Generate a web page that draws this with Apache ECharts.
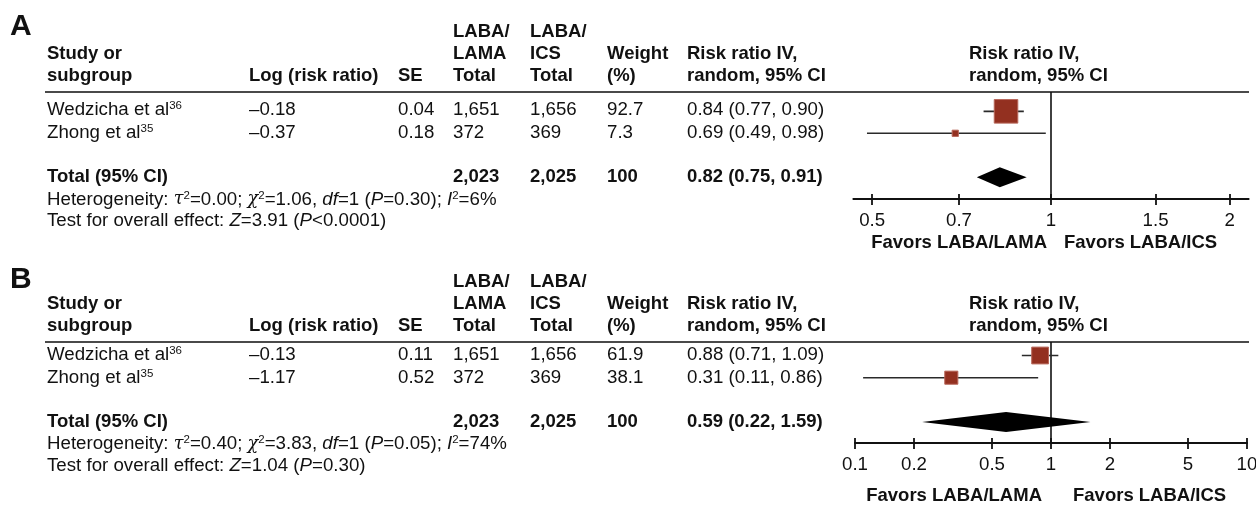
<!DOCTYPE html>
<html><head><meta charset="utf-8">
<script src="https://cdn.jsdelivr.net/npm/echarts@6/dist/echarts.min.js"></script>
<style>html,body{margin:0;padding:0;background:#fff}#c{width:1256px;height:506px}</style>
</head><body><div id="c"></div>
<script>
// ---------- Panel A data ----------
const studiesA   = ['Wedzicha et al', 'Zhong et al'];
const refsA      = ['36', '35'];
const logRRA     = ['–0.18', '–0.37'];
const seA        = ['0.04', '0.18'];
const lamaTotA   = ['1,651', '372'];
const icsTotA    = ['1,656', '369'];
const weightA    = [92.7, 7.3];
const rrA        = [0.84, 0.69];
const loA        = [0.77, 0.49];
const hiA        = [0.90, 0.98];
const pooledA    = [0.82, 0.75, 0.91];      // estimate, lower, upper
const sumsA      = ['2,023', '2,025', '100'];
const hetA       = ['0.00', '1.06', '1', '=0.30', '6%'];  // tau2, chi2, df, P, I2
const testA      = ['3.91', '<0.0001'];       // Z, P
const ticksA     = [0.5, 0.7, 1, 1.5, 2];

// ---------- Panel B data ----------
const studiesB   = ['Wedzicha et al', 'Zhong et al'];
const refsB      = ['36', '35'];
const logRRB     = ['–0.13', '–1.17'];
const seB        = ['0.11', '0.52'];
const lamaTotB   = ['1,651', '372'];
const icsTotB    = ['1,656', '369'];
const weightB    = [61.9, 38.1];
const rrB        = [0.88, 0.31];
const loB        = [0.71, 0.11];
const hiB        = [1.09, 0.86];
const pooledB    = [0.59, 0.22, 1.59];
const sumsB      = ['2,023', '2,025', '100'];
const hetB       = ['0.40', '3.83', '1', '=0.05', '74%'];
const testB      = ['1.04', '=0.30'];
const ticksB     = [0.1, 0.2, 0.5, 1, 2, 5, 10];

const nullRR = 1;
const favors = ['Favors LABA/LAMA', 'Favors LABA/ICS'];

// ---------- layout ----------
const FF = '"Liberation Sans", Arial, Helvetica, sans-serif';
const FS = 18.7;   // regular text
const FB = 18.5;   // bold text
const COL = { study: 47, logrr: 249, se: 398, lama: 453, ics: 530, wt: 607, ci: 687, plot: 969 };
const L = Math.log10;

const panels = [
  { letter: 'A', studies: studiesA, refs: refsA, logrr: logRRA, se: seA, lama: lamaTotA, ics: icsTotA,
    wt: weightA, rr: rrA, lo: loA, hi: hiA, pooled: pooledA, sums: sumsA, het: hetA, test: testA, ticks: ticksA,
    ext: 0.3325, pxPerDec: 594, gridTop: 92, gridH: 107, yMin: 0.12, yMax: 4.992, sq: 2.5,
    gy: { letter: 27, hdr: [32, 54, 76], rule: 92, rows: [109.5, 132.5], total: 177, het: 199.5, test: 221, fav: 243 },
    favX: [1047, 1064] },
  { letter: 'B', studies: studiesB, refs: refsB, logrr: logRRB, se: seB, lama: lamaTotB, ics: icsTotB,
    wt: weightB, rr: rrB, lo: loB, hi: hiB, pooled: pooledB, sums: sumsB, het: hetB, test: testB, ticks: ticksB,
    ext: 1, pxPerDec: 196, gridTop: 342, gridH: 101, yMin: 0.391, yMax: 4.945, sq: 2.2,
    gy: { letter: 280, hdr: [282, 304, 326], rule: 342, rows: [354.5, 377.5], total: 422, het: 444, test: 466, fav: 496 },
    favX: [1042, 1073] }
];

const rich = {
  g: { fontFamily: '"DejaVu Serif", "Liberation Serif", serif', fontStyle: 'italic', fontSize: FS - 1, lineHeight: 20, fill: '#111' },
  i: { fontFamily: FF, fontStyle: 'italic', fontSize: FS, lineHeight: 20, fill: '#111' },
  s: { fontFamily: FF, fontSize: 11.5, lineHeight: 12, verticalAlign: 'top', fill: '#111' },
  n: { fontFamily: FF, fontSize: FS, lineHeight: 20, fill: '#111' }
};

function txt(x, y, text, bold, extra) {
  return {
    type: 'text', x: x, y: y, silent: true,
    style: Object.assign({ text: text, fontFamily: FF, fontSize: bold ? FB : FS, fontWeight: bold ? 'bold' : 'normal',
      fill: '#111', align: 'left', verticalAlign: 'middle', lineHeight: 20, rich: rich }, extra || {})
  };
}

const graphics = [];
const grids = [], xAxes = [], yAxes = [], series = [];

panels.forEach((p, pi) => {
  const g = p.gy;
  // panel letter
  graphics.push(txt(10, g.letter, p.letter, true, { fontSize: 30, lineHeight: 32, fontWeight: 'bold' }));
  // headers
  graphics.push(txt(COL.lama, g.hdr[0], 'LABA/', true));
  graphics.push(txt(COL.ics, g.hdr[0], 'LABA/', true));
  graphics.push(txt(COL.study, g.hdr[1], 'Study or', true));
  graphics.push(txt(COL.lama, g.hdr[1], 'LAMA', true));
  graphics.push(txt(COL.ics, g.hdr[1], 'ICS', true));
  graphics.push(txt(COL.wt, g.hdr[1], 'Weight', true));
  graphics.push(txt(COL.ci, g.hdr[1], 'Risk ratio IV,', true));
  graphics.push(txt(COL.plot, g.hdr[1], 'Risk ratio IV,', true));
  graphics.push(txt(COL.study, g.hdr[2], 'subgroup', true));
  graphics.push(txt(COL.logrr, g.hdr[2], 'Log (risk ratio)', true));
  graphics.push(txt(COL.se, g.hdr[2], 'SE', true));
  graphics.push(txt(COL.lama, g.hdr[2], 'Total', true));
  graphics.push(txt(COL.ics, g.hdr[2], 'Total', true));
  graphics.push(txt(COL.wt, g.hdr[2], '(%)', true));
  graphics.push(txt(COL.ci, g.hdr[2], 'random, 95% CI', true));
  graphics.push(txt(COL.plot, g.hdr[2], 'random, 95% CI', true));
  // rule
  graphics.push({ type: 'line', silent: true, shape: { x1: 45, y1: g.rule, x2: 1249, y2: g.rule },
    style: { stroke: '#4a4a4a', lineWidth: 2 } });
  // study rows
  p.studies.forEach((s, k) => {
    const y = g.rows[k];
    graphics.push(txt(COL.study, y, '{n|' + s + '}{s|' + p.refs[k] + '}', false));
    graphics.push(txt(COL.logrr, y, p.logrr[k], false));
    graphics.push(txt(COL.se, y, p.se[k], false));
    graphics.push(txt(COL.lama, y, p.lama[k], false));
    graphics.push(txt(COL.ics, y, p.ics[k], false));
    graphics.push(txt(COL.wt, y, p.wt[k].toFixed(1), false));
    graphics.push(txt(COL.ci, y, p.rr[k].toFixed(2) + ' (' + p.lo[k].toFixed(2) + ', ' + p.hi[k].toFixed(2) + ')', false));
  });
  // total row
  graphics.push(txt(COL.study, g.total, 'Total (95% CI)', true));
  graphics.push(txt(COL.lama, g.total, p.sums[0], true));
  graphics.push(txt(COL.ics, g.total, p.sums[1], true));
  graphics.push(txt(COL.wt, g.total, p.sums[2], true));
  graphics.push(txt(COL.ci, g.total, p.pooled[0].toFixed(2) + ' (' + p.pooled[1].toFixed(2) + ', ' + p.pooled[2].toFixed(2) + ')', true));
  // heterogeneity & test
  const h = p.het;
  graphics.push(txt(COL.study, g.het,
    '{n|Heterogeneity: }{g|τ}{s|2}{n|=' + h[0] + '; }{g|χ}{s|2}{n|=' + h[1] + ', }{i|df}{n|=' + h[2] +
    ' (}{i|P}{n|' + h[3] + '); }{i|I}{s|2}{n|=' + h[4] + '}', false));
  graphics.push(txt(COL.study, g.test,
    '{n|Test for overall effect: }{i|Z}{n|=' + p.test[0] + ' (}{i|P}{n|' + p.test[1] + ')}', false));
  // favours
  graphics.push(txt(p.favX[0], g.fav, favors[0], true, { align: 'right' }));
  graphics.push(txt(p.favX[1], g.fav, favors[1], true, { align: 'left' }));

  // ---- plot area (log scale via log10 on a value axis) ----
  const left = 1051 - p.ext * p.pxPerDec;
  const width = 2 * p.ext * p.pxPerDec;
  grids.push({ left: left, top: p.gridTop, width: width, height: p.gridH, containLabel: false, outerBoundsMode: 'none' });
  const tickVals = p.ticks.map(L);
  const fmt = v => { const t = p.ticks.find(t => Math.abs(L(t) - v) < 1e-6); return t === undefined ? '' : String(t); };
  const base = {
    type: 'value', gridIndex: pi, min: -p.ext, max: p.ext, position: 'bottom', offset: 0,
    axisLine: { show: true, onZero: false, lineStyle: { color: '#111', width: 1.8 } },
    splitLine: { show: false }
  };
  xAxes.push(Object.assign({}, base, {
    axisTick: { show: true, customValues: tickVals, length: 6, inside: false, lineStyle: { color: '#111', width: 1.8 } },
    axisLabel: { show: true, customValues: tickVals, formatter: fmt, margin: 12, fontSize: FS, fontFamily: FF, color: '#111',
      hideOverlap: false, showMinLabel: true, showMaxLabel: true }
  }));
  xAxes.push(Object.assign({}, base, {
    axisTick: { show: true, customValues: tickVals, length: 5, inside: true, lineStyle: { color: '#111', width: 1.8 } },
    axisLabel: { show: false }
  }));
  yAxes.push({ type: 'value', gridIndex: pi, inverse: true, min: p.yMin, max: p.yMax, show: false });

  const xIdx = pi * 2;
  const studyData = p.rr.map((r, k) => [L(r), L(p.lo[k]), L(p.hi[k]), k + 1, p.wt[k]]);
  const sqK = p.sq;
  series.push({
    type: 'custom', xAxisIndex: xIdx, yAxisIndex: pi, silent: true, clip: false,
    data: studyData,
    renderItem: (params, api) => {
      const row = api.value(3);
      const pe = api.coord([api.value(0), row]);
      const pl = api.coord([api.value(1), row]);
      const ph = api.coord([api.value(2), row]);
      const s = sqK * Math.sqrt(api.value(4)) - 0.5;
      return { type: 'group', children: [
        { type: 'line', shape: { x1: pl[0], y1: pl[1], x2: ph[0], y2: ph[1] }, style: { stroke: '#2a2a2a', lineWidth: 1.6 } },
        { type: 'rect', shape: { x: pe[0] - s / 2, y: pe[1] - s / 2, width: s, height: s },
          style: { fill: '#933020', stroke: '#b8675a', lineWidth: 1 } }
      ] };
    }
  });
  const totalRow = p.studies.length + 2;
  series.push({
    type: 'custom', xAxisIndex: xIdx, yAxisIndex: pi, silent: true, clip: false,
    data: [[L(p.pooled[0]), L(p.pooled[1]), L(p.pooled[2]), totalRow]],
    renderItem: (params, api) => {
      const row = api.value(3);
      const pe = api.coord([api.value(0), row]);
      const pl = api.coord([api.value(1), row]);
      const ph = api.coord([api.value(2), row]);
      return { type: 'polygon', shape: { points: [[pl[0], pl[1]], [pe[0], pe[1] - 10], [ph[0], ph[1]], [pe[0], pe[1] + 10]] },
        style: { fill: '#000' } };
    }
  });
  series.push({
    type: 'line', xAxisIndex: xIdx, yAxisIndex: pi, silent: true, symbol: 'none',
    data: [[L(nullRR), p.yMin], [L(nullRR), p.yMax]],
    lineStyle: { color: '#111', width: 1.6 }, z: 1
  });
});

const chart = echarts.init(document.getElementById('c'), null, { renderer: 'canvas' });
chart.setOption({
  animation: false,
  backgroundColor: '#fff',
  grid: grids, xAxis: xAxes, yAxis: yAxes, series: series,
  graphic: { elements: graphics }
});
</script></body></html>
